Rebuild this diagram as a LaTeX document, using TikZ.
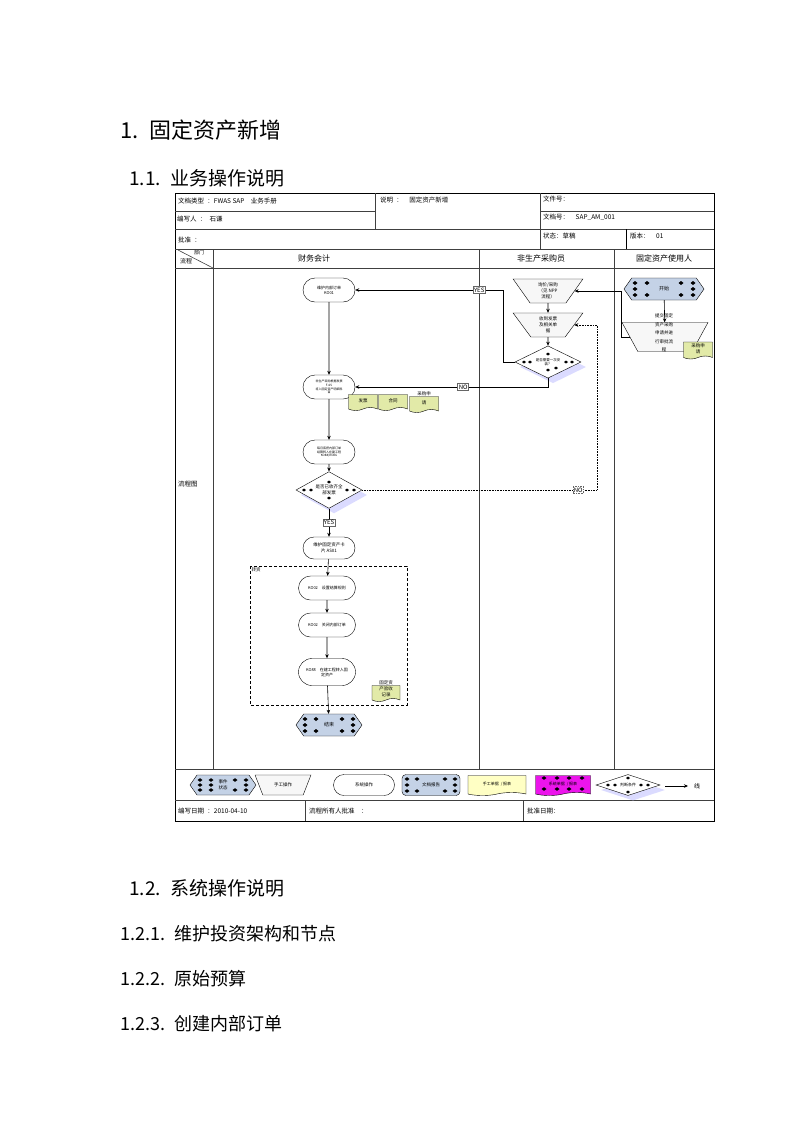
\documentclass[tikz,border=0pt]{standalone}
\usepackage{fontspec}
\setmainfont{Noto Sans CJK SC}
\usetikzlibrary{shapes.geometric,shapes.misc,shapes.symbols,arrows.meta,shadows}

\definecolor{docgreen}{RGB}{226,234,168}
\definecolor{docyellow}{RGB}{255,255,196}
\definecolor{patblue}{RGB}{196,210,230}
\definecolor{patpink}{RGB}{236,20,236}

\begin{document}
\begin{tikzpicture}[x=1pt,y=-1pt]
    % Styles
    \tikzset{
        frame/.style={line width=0.8pt},
        grid/.style={line width=0.6pt, black!75},
        cell/.style={anchor=west, inner sep=0pt, font=\fontsize{6.5}{7}\selectfont},
        lanehead/.style={inner sep=0pt, font=\fontsize{8}{9}\selectfont},
        heading/.style={anchor=west, inner sep=0pt},
        sysop/.style={draw, rounded rectangle, fill=white, minimum width=53pt, minimum height=24pt, inner sep=0.5pt, align=center, font=\fontsize{4}{5}\selectfont},
        manop/.style={draw, trapezium, trapezium stretches=true, shape border rotate=180, trapezium left angle=60, trapezium right angle=60, fill=black!3, minimum width=70pt, minimum height=24pt, inner sep=0pt, align=center, font=\fontsize{4.5}{6}\selectfont},
        event/.style={draw, signal, signal to=east and west, signal pointer angle=110, fill=patblue, minimum width=66pt, minimum height=22pt, inner sep=0pt, align=center, font=\fontsize{5}{6}\selectfont},
        decision/.style={draw, diamond, fill=white, minimum width=66pt, minimum height=24pt, inner sep=0pt, align=center, font=\fontsize{4}{5}\selectfont, drop shadow={shadow xshift=5pt, shadow yshift=-5pt, fill=blue!20, opacity=0.7}},
        paper/.style={draw, tape, tape bend top=none, tape bend height=3pt, fill=docgreen, minimum width=29pt, minimum height=16pt, inner sep=0.5pt, align=center, font=\fontsize{4.5}{6}\selectfont},
        flag/.style={draw=black!60, fill=white, inner sep=1pt, font=\fontsize{6}{6}\selectfont},
        arr/.style={semithick, >={Stealth[length=4pt,width=3.5pt]}, ->},
        dotarr/.style={arr, densely dotted},
        dmark/.style={fill=black}
    }
    \useasboundingbox (0,0) rectangle (800,1130);

    % Headings
    \node[heading, font=\fontsize{22}{24}\selectfont] (title) at (120,130) {1.\enspace 固定资产新增};
    \node[heading, font=\fontsize{19}{21}\selectfont] (sec11) at (129,178) {1.1.\enspace 业务操作说明};

    % Form frame
    \draw[frame] (175,193) rectangle (714,821);
    \draw[grid] (175,211) -- (375,211);
    \draw[grid] (175,229) -- (540,229);
    \draw[grid] (375,193) -- (375,229);
    \draw[grid] (540,193) -- (540,249);
    \draw[grid] (540,211) -- (714,211);
    \draw[grid] (540,229) -- (714,229);
    \draw[frame] (626,229) -- (626,249);
    \draw[grid] (175,249) -- (714,249);
    \draw[grid] (175,268) -- (714,268);
    \draw[grid] (178,250) -- (213,268);
    \foreach \x in {213,479,614}
        \draw[grid] (\x,249) -- (\x,769);
    \draw[grid] (175,769) -- (714,769);
    \draw[grid] (175,800) -- (714,800);
    \draw[grid] (305,800) -- (305,821);
    \draw[grid] (523,800) -- (523,821);

    % Form texts
    \node[cell] (doctype) at (178,201) {文档类型\enspace ：FWAS SAP\quad 业务手册};
    \node[cell] (author) at (177,219) {编写人\enspace ：\enspace 石谦};
    \node[cell] (approve) at (178,240) {批准\enspace ：};
    \node[cell] (descr) at (380,200) {说明\enspace ：\quad 固定资产新增};
    \node[cell] (fileno) at (543,199) {文件号：};
    \node[cell] (docno) at (543,217) {文档号：\quad SAP\_AM\_001};
    \node[cell] (status) at (543,236) {状态：草稿};
    \node[cell] (version) at (630,236) {版本：\quad 01};
    \node[inner sep=0pt, font=\fontsize{5}{5}\selectfont] (deptcorner) at (199,253) {部门};
    \node[inner sep=0pt, font=\fontsize{6}{6}\selectfont] (flowcorner) at (186,261) {流程};
    \node[lanehead] (finlane) at (314,258) {财务会计};
    \node[lanehead] (purlane) at (541,258) {非生产采购员};
    \node[lanehead] (userlane) at (664,258) {固定资产使用人};
    \node[cell] (flowlabel) at (178,484) {流程图};
    \node[cell] (writedate) at (178,811) {编写日期\enspace ：2010-04-10};
    \node[cell] (ownerok) at (309,811) {流程所有人批准\quad ：};
    \node[cell] (okdate) at (527,811) {批准日期：};

    % Finance lane
    \node[sysop] (ko01) at (329,290) {维护内部订单\\KO01};
    \node[sysop, font=\fontsize{3}{3.8}\selectfont] (f65) at (329,387) {非生产采购根据发票\\F-65\\将入固定资产明细科\\目};
    \node[paper] (bill) at (363,401) {发票};
    \node[paper] (contract) at (393,401) {合同};
    \node[paper, label={[inner sep=0pt, font=\fontsize{4.5}{5}\selectfont]above:采购申}] (reqcopy) at (424,403) {请};
    \node[sysop, font=\fontsize{3}{3.8}\selectfont] (settle) at (329,452) {每月底把内部订单\\结算转入在建工程\\KO88/KO8G};
    \node[decision, font=\fontsize{4.5}{5.5}\selectfont] (recvdec) at (329,490) {是否已收齐全\\部发票};
    \foreach \dx/\dy in {-25/0,-18/0,18/0,25/0,0/-8,0/8}
        \fill[dmark, shift={(recvdec.center)}] (\dx-2,\dy) -- (\dx,\dy-1.5) -- (\dx+2,\dy) -- (\dx,\dy+1.5) -- cycle;
    \node[sysop, minimum height=22pt, font=\fontsize{4.5}{6}\selectfont] (card) at (329,548) {维护固定资产卡\\片 AS01};

    % Transfer group
    \draw[densely dashed, semithick] (250,566) rectangle (407,705);
    \node[anchor=north west, inner sep=1.5pt, font=\fontsize{4.5}{5}\selectfont] (transfer) at (250,566) {转资};
    \node[sysop, minimum width=58pt] (rule) at (327,588) {KO02\quad 设置结算规则};
    \node[sysop, minimum width=58pt] (close) at (327,625) {KO02\quad 关闭内部订单};
    \node[sysop, minimum width=58pt, minimum height=27pt] (post) at (327,672) {KO88\quad 在建工程转入固\\定资产};
    \node[paper, minimum width=28pt, label={[inner sep=0pt, font=\fontsize{4.5}{5}\selectfont]above:固定资}] (accept) at (386,692) {产验收\\记录};
    \node[event] (finish) at (329,725) {结束};
    \foreach \dx/\dy in {-24/-6,-24/0,-24/6,-13/-6,-13/6,13/-6,13/6,24/-6,24/0,24/6}
        \fill[dmark, shift={(finish.center)}] (\dx-2.5,\dy) -- (\dx,\dy-2) -- (\dx+2.5,\dy) -- (\dx,\dy+2) -- cycle;

    % Purchasing lane
    \node[manop] (inquiry) at (548,291) {询价/采购\\（见 NPP\\流程）};
    \node[manop] (bills) at (548,325) {收到发票\\及相关单\\据};
    \node[decision, font=\fontsize{3.5}{4.5}\selectfont] (needdec) at (548,362) {是否需要一次安\\装？};
    \foreach \dx/\dy in {-24/0,-18/0,18/0,24/0,8/6,0/-8,0/8}
        \fill[dmark, shift={(needdec.center)}] (\dx-2,\dy) -- (\dx,\dy-1.5) -- (\dx+2,\dy) -- (\dx,\dy+1.5) -- cycle;

    % User lane
    \node[event, minimum width=80pt] (start) at (664,289) {开始};
    \foreach \dx/\dy in {-29/-6,-29/0,-29/6,-17/-6,-17/6,17/-6,17/6,29/-6,29/0,29/6}
        \fill[dmark, shift={(start.center)}] (\dx-2.5,\dy) -- (\dx,\dy-2) -- (\dx+2.5,\dy) -- (\dx,\dy+2) -- cycle;
    \node[manop, trapezium left angle=58, trapezium right angle=58, minimum width=86pt, minimum height=29pt] (apply) at (665,337) {\phantom{提交}};
    \node[inner sep=0pt, align=center, font=\fontsize{4.5}{8.5}\selectfont] (applytext) at (664,333) {提交固定\\资产采购\\申请并进\\行审批流\\程};
    \node[paper, minimum width=29pt, minimum height=17pt] (reqform) at (698,349) {采购申\\请};

    % Connectors
    \draw[arr] (ko01) -- (f65);
    \draw[arr] (f65) -- (settle);
    \draw[arr] (settle) -- (recvdec);
    \draw[arr] (recvdec) -- node[flag] (yesb) {YES} (card);
    \draw[arr] (card) -- (rule);
    \draw[arr] (rule) -- (close);
    \draw[arr] (close) -- (post);
    \draw[arr] (post) -- (finish);
    \draw[arr] (inquiry) -- (bills);
    \draw[arr] (bills) -- (needdec);
    \draw[arr] (needdec.west) -- ++(-12,0) |- node[flag, pos=0.58] (yesa) {YES} (ko01.east);
    \draw[arr] (needdec.south) |- node[flag, pos=0.72] (noa) {NO} (f65.east);
    \coordinate (noturn) at (597,490);
    \draw[dotarr] (recvdec.east) -- node[flag, pos=0.92] (nob) {NO} (noturn) |- (bills.east);
    \draw[arr] (start) -- (apply);
    \draw[arr] (apply.west) -- ++(-8,0) |- (inquiry.east);

    % Legend
    \node[event, minimum width=66pt, minimum height=20pt, font=\fontsize{4.5}{5.5}\selectfont] (lgevent) at (223,785) {事件\\状态};
    \foreach \dx/\dy in {-23/-5,-23/0,-23/5,-12/-5,-12/0,-12/5,12/-5,12/5,23/-5,23/0,23/5}
        \fill[dmark, shift={(lgevent.center)}] (\dx-2.5,\dy) -- (\dx,\dy-1.8) -- (\dx+2.5,\dy) -- (\dx,\dy+1.8) -- cycle;
    \node[manop, trapezium left angle=50, trapezium right angle=50, minimum width=56pt, minimum height=20pt] (lgman) at (283,785) {手工操作};
    \node[sysop, minimum width=62pt, minimum height=21pt, font=\fontsize{4.5}{5}\selectfont] (lgsys) at (364,785) {系统操作};
    \node[draw, rounded corners=4pt, fill=patblue, minimum width=58pt, minimum height=21pt, inner sep=0pt, font=\fontsize{4.5}{5}\selectfont] (lgfile) at (431,785) {文档报告};
    \foreach \dx/\dy in {-24/-6,-24/0,-24/6,-14/-6,-14/6,14/-6,14/6,24/-6,24/0,24/6}
        \fill[dmark, shift={(lgfile.center)}] (\dx-2.5,\dy) -- (\dx,\dy-1.8) -- (\dx+2.5,\dy) -- (\dx,\dy+1.8) -- cycle;
    \node[paper, fill=docyellow, minimum width=58pt, minimum height=20pt, font=\fontsize{4}{5}\selectfont] (lghand) at (497,784) {手工单据\enspace / 报表};
    \node[paper, fill=patpink, minimum width=55pt, minimum height=20pt, font=\fontsize{4}{5}\selectfont] (lgprint) at (563,784) {系统单据\enspace / 报表};
    \foreach \dx/\dy in {-19/-6,-6/-6,6/-6,19/-6,-19/5,-6/5,6/5,19/5}
        \fill[dmark, shift={(lgprint.center)}] (\dx-2.5,\dy) -- (\dx,\dy-1.8) -- (\dx+2.5,\dy) -- (\dx,\dy+1.8) -- cycle;
    \node[decision, minimum width=64pt, minimum height=21pt] (lgcheck) at (628,785) {判断条件};
    \foreach \dx/\dy in {-20/0,-13/0,13/0,20/0,0/-7,0/7}
        \fill[dmark, shift={(lgcheck.center)}] (\dx-2,\dy) -- (\dx,\dy-1.5) -- (\dx+2,\dy) -- (\dx,\dy+1.5) -- cycle;
    \coordinate (lgfrom) at (665,786);
    \coordinate (lgto) at (688,786);
    \draw[arr] (lgfrom) -- (lgto);
    \node[inner sep=0pt, font=\fontsize{6}{6}\selectfont] (lgline) at (697,786) {线};

    % Lower headings
    \node[heading, font=\fontsize{19}{21}\selectfont] (sec12) at (129,888) {1.2.\enspace 系统操作说明};
    \node[heading, font=\fontsize{18}{20}\selectfont] (sec121) at (120,934) {1.2.1.\enspace 维护投资架构和节点};
    \node[heading, font=\fontsize{18}{20}\selectfont] (sec122) at (120,979) {1.2.2.\enspace 原始预算};
    \node[heading, font=\fontsize{18}{20}\selectfont] (sec123) at (120,1024) {1.2.3.\enspace 创建内部订单};
\end{tikzpicture}
\end{document}
